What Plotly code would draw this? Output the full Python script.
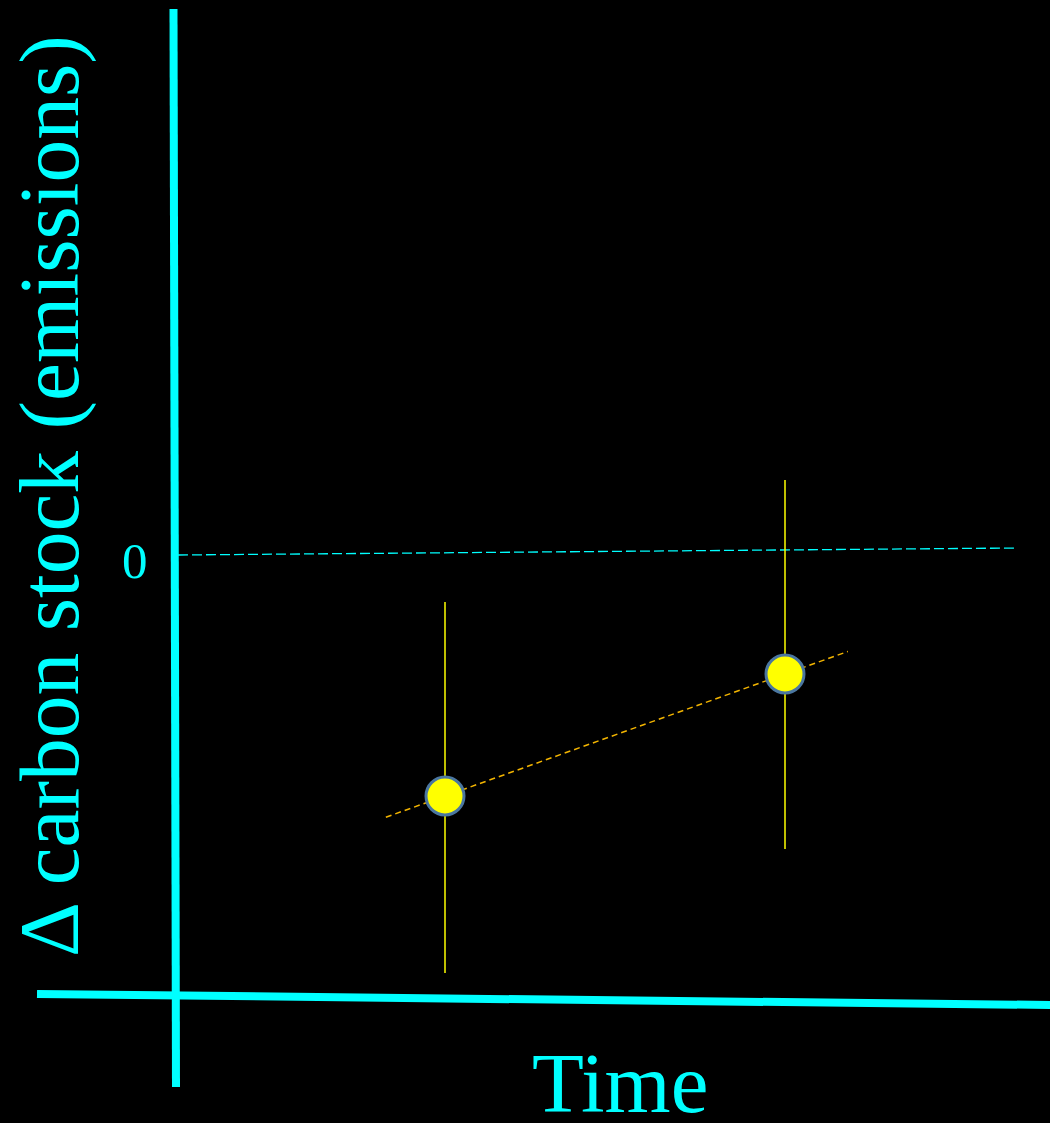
import plotly.graph_objects as go

# Data (abstract units)
times = [1.0, 2.0]
stock_change = [-2.45, -1.23]
err_plus = [1.94, 1.94]
err_minus = [1.77, 1.75]
zero_label = "0"
x_title = "Time"
y_title = "Δ carbon stock (emissions)"

W, H = 1050, 1123
x_range = [-0.3088, 2.7794]
y_range = [-5.72, 5.51]

CYAN = "#00FFFF"
FONT = "Liberation Serif"

fig = go.Figure()

# trend line through the two points, extended slightly
slope = (stock_change[1] - stock_change[0]) / (times[1] - times[0])
tx = [times[0] - 0.174, times[1] + 0.185]
ty = [stock_change[0] + slope * (tx[0] - times[0]), stock_change[0] + slope * (tx[1] - times[0])]
fig.add_trace(go.Scatter(x=tx, y=ty, mode="lines",
                         line=dict(color="#F2B400", width=1.5, dash="6px,4px"),
                         hoverinfo="skip", showlegend=False))

fig.add_trace(go.Scatter(
    x=times, y=stock_change, mode="markers",
    marker=dict(size=38, color="#FFFF00", line=dict(color="#4A76A0", width=3)),
    error_y=dict(type="data", symmetric=False, array=err_plus, arrayminus=err_minus,
                 color="#FFFF00", thickness=1.5, width=0),
    showlegend=False))

# zero reference dashed line (slightly tilted as in picture)
fig.add_shape(type="line", xref="x", yref="y", x0=0.2147, y0=-0.04, x1=2.685, y1=0.03,
              line=dict(color=CYAN, width=1.3, dash="10px,4px"), layer="below")

# axis lines
def px(xp):
    return xp / W
def py(yp):
    return 1 - yp / H

fig.add_shape(type="line", xref="paper", yref="paper",
              x0=px(173.5), y0=py(9), x1=px(176), y1=py(1087),
              line=dict(color=CYAN, width=8))
fig.add_shape(type="line", xref="paper", yref="paper",
              x0=px(37), y0=py(994), x1=px(1052), y1=py(1005),
              line=dict(color=CYAN, width=8))

fig.add_annotation(x=px(135), y=py(561), xref="paper", yref="paper", text=zero_label,
                   showarrow=False, font=dict(family=FONT, size=51, color=CYAN),
                   xanchor="center", yanchor="middle")
fig.add_annotation(x=px(620), y=py(1083), xref="paper", yref="paper", text=x_title,
                   showarrow=False, font=dict(family=FONT, size=85, color=CYAN),
                   xanchor="center", yanchor="middle")
fig.add_annotation(x=px(49), y=py(496), xref="paper", yref="paper", text=y_title,
                   showarrow=False, textangle=-90, font=dict(family=FONT, size=85.5, color=CYAN),
                   xanchor="center", yanchor="middle")

fig.update_layout(
    width=W, height=H,
    margin=dict(l=0, r=0, t=0, b=0),
    paper_bgcolor="black", plot_bgcolor="black",
    xaxis=dict(range=x_range, visible=False, fixedrange=True),
    yaxis=dict(range=y_range, visible=False, fixedrange=True),
    showlegend=False,
)

fig.write_html("out.html", config={"displayModeBar": False},
               post_script="document.body.style.margin='0';document.body.style.overflow='hidden';")
